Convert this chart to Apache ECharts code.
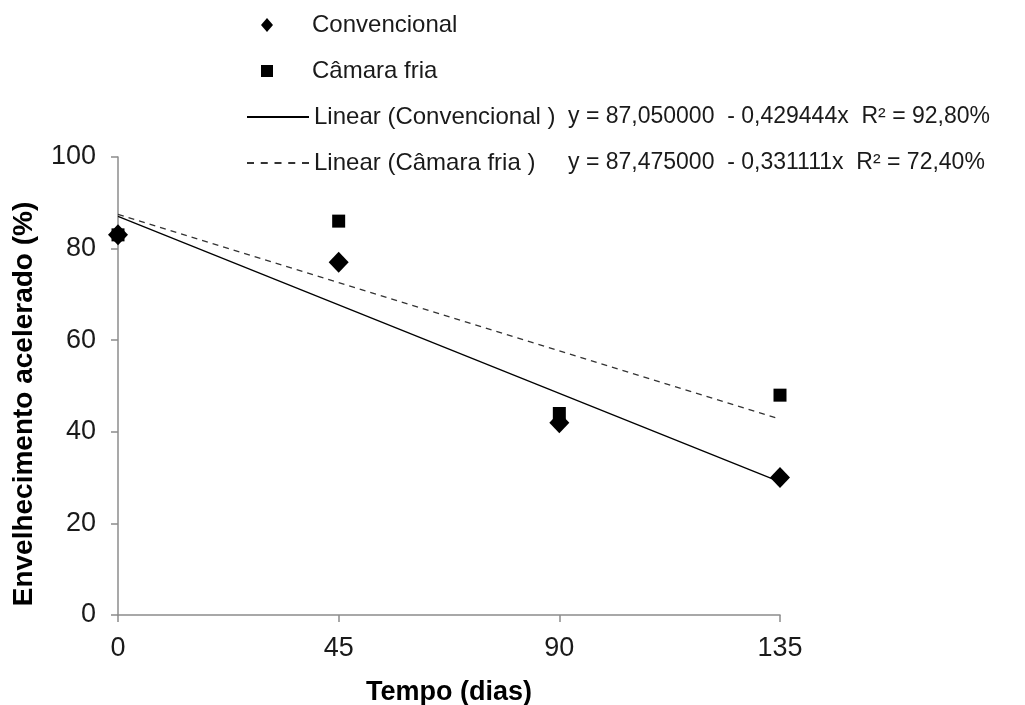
<!DOCTYPE html>
<html>
<head>
<meta charset="utf-8">
<script src="https://cdn.jsdelivr.net/npm/echarts@6/dist/echarts.min.js"></script>
<style>
html, body { margin: 0; padding: 0; background: #fff; }
#chart { width: 1025px; height: 705px; }
</style>
</head>
<body>
<div id="chart"></div>
<script>
// days of storage
var dias = [0, 45, 90, 135];
// accelerated ageing (%) per treatment
var convencional = [83, 77, 42, 30];
var camaraFria = [83, 86, 44, 48];
// fitted trend lines, values at day 0 and day 135
var trendDias = [0, 135];
var trendConvencional = [87.05, 29.08];
var trendCamaraFria = [87.48, 42.78];
var eqConvencional = 'y = 87,050000  - 0,429444x  R² = 92,80%';
var eqCamaraFria = 'y = 87,475000  - 0,331111x  R² = 72,40%';
var yTicks = [0, 20, 40, 60, 80, 100];
var xTicks = [0, 45, 90, 135];

function pairs(xs, ys) {
    return xs.map(function (x, i) { return [x, ys[i]]; });
}

var chart = echarts.init(document.getElementById('chart'));
var font = 'Liberation Sans, Arial, sans-serif';

// legend icons drawn as plain lines (no symbol on them)
var solidIcon = 'path://M0,0h62v2h-62z';
var dashIcon = 'path://M0,0h7v2h-7zM13.75,0h7v2h-7zM27.5,0h7v2h-7zM41.25,0h7v2h-7zM55,0h7v2h-7z';

chart.setOption({
    animation: false,
    backgroundColor: '#fff',
    textStyle: { fontFamily: font },
    grid: { left: 118, right: 245, top: 157, bottom: 90, outerBoundsMode: 'none', containLabel: false },
    legend: [
        {
            data: [
                { name: 'Convencional' },
                { name: 'Câmara fria', icon: 'path://M0,0h1v1h-1z' }
            ],
            orient: 'vertical',
            left: 256,
            top: 8,
            itemWidth: 12,
            itemHeight: 14,
            itemGap: 22,
            textStyle: { fontSize: 24, color: '#1a1a1a', padding: [0, 0, 0, 34] }
        },
        {
            data: [
                { name: 'Linear (Convencional )', icon: solidIcon },
                { name: 'Linear (Câmara fria )', icon: dashIcon }
            ],
            orient: 'vertical',
            left: 242,
            top: 100,
            itemWidth: 62,
            itemHeight: 2,
            itemGap: 22,
            symbolKeepAspect: false,
            formatter: function (name) {
                var eq = name.indexOf('Convencional') >= 0 ? eqConvencional : eqCamaraFria;
                return '{n|' + name + '}{e|' + eq + '}';
            },
            textStyle: {
                fontSize: 24,
                color: '#1a1a1a',
                rich: {
                    n: { fontSize: 24, width: 254, color: '#1a1a1a' },
                    e: { fontSize: 23, color: '#1a1a1a' }
                }
            }
        }
    ],
    xAxis: {
        type: 'value',
        min: 0,
        max: 135,
        interval: 45,
        name: 'Tempo (dias)',
        nameLocation: 'middle',
        nameGap: 64,
        nameTextStyle: { fontSize: 27, fontWeight: 'bold', color: '#000' },
        axisLine: { lineStyle: { color: '#8c8c8c', width: 1.5 } },
        axisTick: { show: true, length: 7, lineStyle: { color: '#8c8c8c', width: 1.5 } },
        axisLabel: { fontSize: 27, color: '#1a1a1a', margin: 20,
            formatter: function (v) { return xTicks.indexOf(v) >= 0 ? String(v) : ''; } },
        splitLine: { show: false }
    },
    yAxis: {
        type: 'value',
        min: 0,
        max: 100,
        interval: 20,
        name: 'Envelhecimento acelerado (%)',
        nameLocation: 'middle',
        nameGap: 80,
        nameTextStyle: { fontSize: 28, fontWeight: 'bold', color: '#000', padding: [0, 36, 0, 0] },
        axisLine: { show: true, lineStyle: { color: '#8c8c8c', width: 1.5 } },
        axisTick: { show: true, length: 7, lineStyle: { color: '#8c8c8c', width: 1.5 } },
        axisLabel: { fontSize: 27, color: '#1a1a1a', margin: 22,
            formatter: function (v) { return yTicks.indexOf(v) >= 0 ? String(v) : ''; } },
        splitLine: { show: false }
    },
    series: [
        {
            name: 'Linear (Convencional )',
            type: 'line',
            data: pairs(trendDias, trendConvencional),
            showSymbol: false,
            symbol: 'none',
            lineStyle: { color: '#000', width: 1.3 },
            itemStyle: { color: '#000' },
            z: 2
        },
        {
            name: 'Linear (Câmara fria )',
            type: 'line',
            data: pairs(trendDias, trendCamaraFria),
            showSymbol: false,
            symbol: 'none',
            lineStyle: { color: '#333', width: 1.3, type: [6, 5] },
            itemStyle: { color: '#333' },
            z: 2
        },
        {
            name: 'Câmara fria',
            type: 'scatter',
            data: pairs(dias, camaraFria),
            symbol: 'rect',
            symbolSize: 13,
            itemStyle: { color: '#000', opacity: 1 },
            clip: false,
            z: 3
        },
        {
            name: 'Convencional',
            type: 'scatter',
            data: pairs(dias, convencional),
            symbol: 'diamond',
            symbolSize: [20, 21],
            itemStyle: { color: '#000', opacity: 1 },
            clip: false,
            z: 4
        }
    ]
});
</script>
</body>
</html>
